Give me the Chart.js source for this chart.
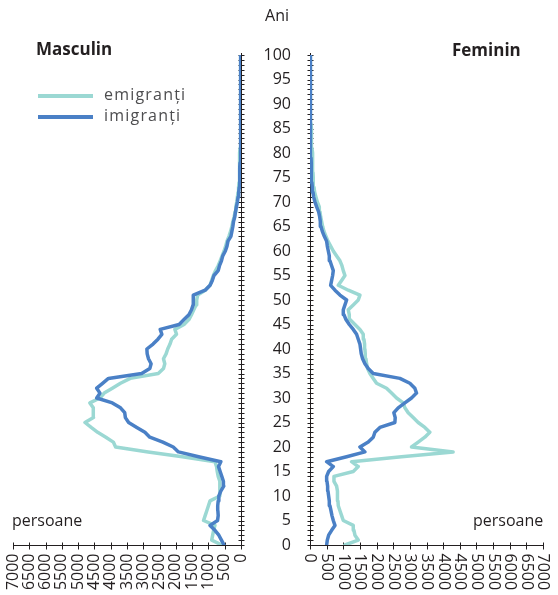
<!DOCTYPE html>
<html lang="ro">
<head>
<meta charset="utf-8">
<title>Emigranți și imigranți pe vârste</title>
<script src="https://cdn.jsdelivr.net/npm/chart.js@4.4.1/dist/chart.umd.min.js"></script>
<style>
  body { margin: 0; background: #fff; }
  #cadru { position: relative; width: 558px; height: 595px; overflow: hidden; font-family: "Open Sans", sans-serif; color: #231f20; }
  #cadru canvas { position: absolute; left: 0; top: 0; }
  .eticheta { position: absolute; line-height: 20px; white-space: nowrap; }
  .titlu { font-weight: bold; font-size: 17px; }
  .legenda { font-size: 16px; letter-spacing: 1.2px; color: #4d4d4f; }
  .linie { position: absolute; width: 55px; height: 4px; }
</style>
</head>
<body>
<div id="cadru">
  <canvas id="graficBarbati" width="558" height="595"></canvas>
  <canvas id="graficFemei" width="558" height="595"></canvas>

  <div class="eticheta" style="left:257px; top:5px; width:40px; text-align:center; font-size:16px;">Ani</div>
  <div class="eticheta titlu" style="left:36px; top:39px;">Masculin</div>
  <div class="eticheta titlu" style="left:452px; top:40px;">Feminin</div>

  <div class="linie" style="left:38px; top:94px; background:#9bd8d3;"></div>
  <div class="eticheta legenda" style="left:104px; top:84px;">emigranți</div>
  <div class="linie" style="left:38px; top:115px; background:#4a80c6;"></div>
  <div class="eticheta legenda" style="left:104px; top:105px;">imigranți</div>

  <div class="eticheta" style="left:12px; top:510px; font-size:16px;">persoane</div>
  <div class="eticheta" style="left:473px; top:510px; font-size:16px;">persoane</div>
</div>

<script>
// varstele 0..100 (categoriile axei verticale)
const varste = Array.from({ length: 101 }, (_, i) => i);
const varsteEtichete = [0, 5, 10, 15, 20, 25, 30, 35, 40, 45, 50, 55, 60, 65, 70, 75, 80, 85, 90, 95, 100];
const valoriPersoane = [0, 500, 1000, 1500, 2000, 2500, 3000, 3500, 4000, 4500, 5000, 5500, 6000, 6500, 7000];

const culoareEmigranti = '#9bd8d3';
const culoareImigranti = '#4a80c6';

// Masculin - imigranti (varsta 0..100)
const barbatiImigranti = [
  520, 600, 680, 800, 950, 720, 700, 710, 715, 700,
  680, 620, 530, 540, 590, 640, 690, 620, 1300, 1920,
  2080, 2400, 2800, 2950, 3200, 3450, 3550, 3570, 3700, 3950,
  4430, 4330, 4430, 4250, 4070, 3050, 2800, 2760, 2840, 2880,
  2890, 2700, 2550, 2430, 2480, 1900, 1750, 1600, 1520, 1470,
  1470, 1460, 1100, 950, 880, 830, 700, 660, 600, 560,
  480, 430, 400, 310, 280, 250, 230, 190, 170, 140,
  110, 90, 70, 55, 45, 40, 38, 34, 30, 27,
  24, 22, 20, 18, 16, 14, 12, 11, 10, 9,
  8, 7, 6, 6, 5, 5, 4, 4, 3, 3, 3
];

// Masculin - emigranti
const barbatiEmigranti = [
  590, 900, 870, 840, 800, 1150, 1100, 1050, 1000, 950,
  650, 650, 650, 650, 700, 730, 750, 800, 1800, 2850,
  3850, 3920, 4150, 4400, 4600, 4790, 4530, 4540, 4530, 4640,
  4330, 4200, 3950, 3700, 3400, 2540, 2380, 2340, 2380, 2300,
  2250, 2180, 2130, 1980, 2030, 1750, 1600, 1520, 1450, 1380,
  1360, 1330, 1100, 950, 900, 850, 780, 700, 640, 580,
  520, 470, 430, 370, 320, 280, 250, 210, 180, 160,
  130, 110, 90, 75, 60, 55, 50, 45, 40, 36,
  32, 28, 25, 22, 20, 18, 15, 13, 11, 10,
  9, 8, 7, 6, 5, 5, 4, 4, 3, 3, 3
];

// Feminin - imigranti
const femeiImigranti = [
  500, 520, 560, 650, 750, 700, 660, 630, 600, 580,
  560, 540, 530, 510, 500, 560, 700, 500, 1100, 1650,
  1500, 1750, 1900, 1950, 2100, 2550, 2560, 2520, 2650, 2850,
  3050, 3200, 3150, 3000, 2700, 1900, 1750, 1650, 1580, 1540,
  1520, 1500, 1450, 1400, 1300, 1180, 1080, 1020, 1000, 1050,
  1100, 900, 750, 620, 650, 680, 700, 650, 600, 580,
  550, 520, 500, 430, 370, 330, 310, 290, 260, 200,
  150, 110, 90, 70, 55, 45, 40, 36, 32, 30,
  28, 26, 24, 22, 20, 18, 16, 14, 12, 11,
  10, 9, 8, 7, 6, 5, 5, 4, 4, 3, 3
];

// Feminin - emigranti
const femeiEmigranti = [
  1050, 1450, 1350, 1320, 1300, 1000, 950, 900, 850, 840,
  830, 820, 800, 720, 720, 1300, 1450, 1250, 2750, 4300,
  3050, 3250, 3450, 3600, 3450, 3250, 3100, 2950, 2850, 2800,
  2600, 2450, 2300, 2000, 1900, 1800, 1730, 1700, 1680, 1660,
  1650, 1640, 1620, 1600, 1500, 1350, 1200, 1180, 1150, 1300,
  1450, 1500, 1150, 850, 950, 1050, 1000, 960, 900, 800,
  700, 620, 540, 480, 420, 380, 350, 320, 300, 280,
  220, 180, 140, 120, 100, 95, 90, 85, 80, 75,
  70, 60, 50, 45, 40, 35, 30, 26, 22, 19,
  16, 14, 12, 10, 9, 8, 7, 6, 5, 4, 4
];

function puncte(valori) {
  return valori.map((v, i) => ({ x: v, y: varste[i] }));
}

// desenam axele cu liniutele lor si etichetele, pe baza scalelor Chart.js
const pluginAxe = {
  id: 'axe',
  beforeDatasetsDraw(chart, args, opt) {
    const ctx = chart.ctx;
    const sx = chart.scales.x;
    const sy = chart.scales.y;
    const stanga = opt.parte === 'stanga';
    const xAxa = Math.round(sx.getPixelForValue(0)) + 0.5;
    const yAxa = Math.round(sy.getPixelForValue(0)) + 0.5;

    ctx.save();
    ctx.strokeStyle = '#231f20';
    ctx.lineWidth = 1;
    ctx.beginPath();
    ctx.moveTo(xAxa, Math.round(sy.getPixelForValue(100)) - 2);
    ctx.lineTo(xAxa, yAxa);
    ctx.moveTo(sx.getPixelForValue(0), yAxa);
    ctx.lineTo(sx.getPixelForValue(7000), yAxa);
    varste.forEach(v => {
      const py = Math.round(sy.getPixelForValue(v)) + 0.5;
      ctx.moveTo(xAxa - 3, py);
      ctx.lineTo(xAxa + 3, py);
    });
    valoriPersoane.forEach(v => {
      const px = Math.round(sx.getPixelForValue(v)) + 0.5;
      ctx.moveTo(px, yAxa - 3);
      ctx.lineTo(px, yAxa + 4);
    });
    ctx.stroke();

    ctx.fillStyle = '#231f20';
    ctx.font = '16px "Open Sans"';
    ctx.textBaseline = 'middle';
    valoriPersoane.forEach(v => {
      ctx.save();
      ctx.translate(sx.getPixelForValue(v), yAxa + 8);
      if (stanga) {
        ctx.rotate(-Math.PI / 2); // se citeste de jos in sus
        ctx.textAlign = 'right';
      } else {
        ctx.rotate(Math.PI / 2); // se citeste de sus in jos
        ctx.textAlign = 'left';
      }
      ctx.fillText(String(v), 0, 0);
      ctx.restore();
    });

    if (!stanga) {
      ctx.textAlign = 'right';
      ctx.font = '16px "Open Sans"';
      varsteEtichete.forEach(v => ctx.fillText(String(v), 291, sy.getPixelForValue(v)));
    }
    ctx.restore();
  }
};

function creeazaGrafic(idCanvas, imigranti, emigranti, parte) {
  const stanga = parte === 'stanga';
  return new Chart(document.getElementById(idCanvas), {
    type: 'line',
    data: {
      datasets: [{
        label: 'imigranți',
        data: puncte(imigranti),
        borderColor: culoareImigranti,
        borderWidth: 3.5,
        order: 0
      }, {
        label: 'emigranți',
        data: puncte(emigranti),
        borderColor: culoareEmigranti,
        borderWidth: 3.5,
        order: 1
      }]
    },
    options: {
      indexAxis: 'y',
      responsive: false,
      animation: false,
      layout: {
        padding: stanga
          ? { left: 13, right: 317, top: 55, bottom: 50 }
          : { left: 310, right: 15, top: 55, bottom: 50 }
      },
      elements: {
        point: { radius: 0 },
        line: { tension: 0, borderJoinStyle: 'round', borderCapStyle: 'round' }
      },
      scales: {
        x: { type: 'linear', min: 0, max: 7000, reverse: stanga, display: false },
        y: { type: 'linear', min: 0, max: 100, display: false }
      },
      plugins: {
        legend: { display: false },
        tooltip: { enabled: false },
        axe: { parte: parte }
      }
    },
    plugins: [pluginAxe]
  });
}

creeazaGrafic('graficBarbati', barbatiImigranti, barbatiEmigranti, 'stanga');
creeazaGrafic('graficFemei', femeiImigranti, femeiEmigranti, 'dreapta');
</script>
</body>
</html>
